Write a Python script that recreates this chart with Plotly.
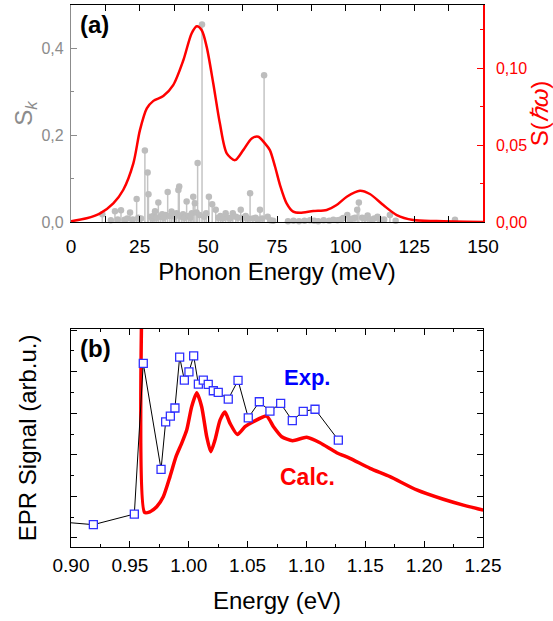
import plotly.graph_objects as go

FONT = "Liberation Sans, Arial, sans-serif"
GRAY = "#8c8c8c"
STEM = "#c4c4c4"
RED = "#ff0000"
BLUE = "#0000ff"

# ---------------- Panel (a) data ----------------
# Partial Huang-Rhys factors S_k (stems) vs phonon energy (meV)
sk_energy = [11.4, 14.5, 16.0, 17.0, 18.2, 19.5, 20.5, 21.5, 22.5, 23.9, 24.5, 25.5, 26.9, 27.9, 28.2,
             29.0, 29.6, 30.2, 30.6, 31.2, 31.8, 32.5, 33.2, 33.8, 34.4, 35.2, 36.0, 36.6, 37.2, 37.8,
             38.4, 39.1, 39.4, 40.2, 40.8, 41.4, 42.1, 42.8, 43.4, 44.0, 44.5, 45.1, 45.7, 46.1, 46.8,
             47.7, 48.5, 49.2, 50.2, 51.4, 52.7, 53.6, 54.4, 55.2, 56.3, 57.2, 58.0, 58.9, 60.0, 60.8,
             61.8, 62.8, 63.6, 64.4, 65.2, 66.2, 67.2, 68.0, 68.8, 69.6, 70.3, 71.6, 72.6, 73.6,
             79.0, 81.0, 83.0, 85.0, 87.0, 88.5, 90.0, 92.0, 94.0, 95.5, 97.0, 98.2, 99.1, 100.6, 101.6,
             102.6, 103.4, 104.2, 104.8, 106.0, 107.0, 108.0, 109.2, 110.4, 111.6, 112.8, 114.0, 116.1,
             118.2, 139.8]
sk_value = [0.018, 0.004, 0.025, 0.006, 0.027, 0.005, 0.008, 0.022, 0.006, 0.053, 0.010, 0.008, 0.165, 0.114, 0.064,
            0.012, 0.008, 0.015, 0.025, 0.010, 0.045, 0.012, 0.018, 0.010, 0.016, 0.069, 0.014, 0.024, 0.018, 0.012,
            0.020, 0.074, 0.082, 0.012, 0.018, 0.010, 0.047, 0.014, 0.010, 0.020, 0.058, 0.043, 0.022, 0.136, 0.016,
            0.455, 0.012, 0.020, 0.058, 0.041, 0.028, 0.010, 0.014, 0.008, 0.020, 0.010, 0.008, 0.020, 0.012, 0.010,
            0.028, 0.010, 0.014, 0.008, 0.066, 0.008, 0.010, 0.006, 0.028, 0.008, 0.338, 0.012, 0.004, 0.003,
            0.002, 0.003, 0.002, 0.003, 0.004, 0.003, 0.002, 0.004, 0.003, 0.005, 0.004, 0.006, 0.009, 0.016, 0.006,
            0.008, 0.010, 0.028, 0.045, 0.010, 0.008, 0.015, 0.006, 0.008, 0.012, 0.005, 0.006, 0.016,
            0.003, 0.005]

# Spectral function S(hbar omega) (red curve, right axis)
s_energy = [0.0, 5.7, 10.6, 15.4, 19.0, 22.7, 25.1, 27.6, 30.0, 33.6, 37.2, 40.9, 43.9, 45.8, 47.6,
            49.4, 51.8, 54.2, 56.7, 59.7, 62.7, 65.8, 68.2, 70.6, 72.4, 74.3, 76.1, 78.5, 80.9, 83.4,
            88.2, 93.1, 96.7, 100.4, 105.2, 108.8, 113.7, 118.6, 124.6, 133.1, 150.0]
s_value = [0.0005, 0.0024, 0.0056, 0.0121, 0.0208, 0.0381, 0.0597, 0.0738, 0.0787, 0.0818, 0.0889, 0.1051, 0.1225, 0.1272, 0.1246,
           0.1138, 0.0900, 0.0641, 0.0446, 0.0402, 0.0467, 0.0543, 0.0554, 0.0511, 0.0467, 0.0359, 0.0240, 0.0121, 0.0067, 0.0060,
           0.0071, 0.0078, 0.0110, 0.0164, 0.0203, 0.0182, 0.0110, 0.0045, 0.0013, 0.0006, 0.0]

a_xticks = [0, 25, 50, 75, 100, 125, 150]
a_yticks = [0.0, 0.2, 0.4]
a_ytext = ["0,0", "0,2", "0,4"]
a_y2ticks = [0.0, 0.05, 0.10]
a_y2text = ["0,00", "0,05", "0,10"]

# ---------------- Panel (b) data ----------------
exp_energy = [0.885, 0.919, 0.9538, 0.9614, 0.9765, 0.9804, 0.9844, 0.9883, 0.9923, 0.9963, 1.0002, 1.0042,
              1.0082, 1.0124, 1.0166, 1.0209, 1.0251, 1.0336, 1.0419, 1.0506, 1.0600, 1.0690, 1.0781,
              1.0880, 1.0973, 1.1073, 1.1271]
exp_signal = [1.22, 1.06, 1.57, 8.82, 3.72, 6.00, 6.28, 6.67, 9.12, 8.01, 8.41, 9.18,
              7.82, 8.01, 7.81, 7.50, 7.42, 7.10, 8.00, 6.20, 6.97, 6.52, 6.89,
              6.06, 6.51, 6.61, 5.13]

calc_energy = [0.9602, 0.9625, 0.9670, 0.9728, 0.9784, 0.9841, 0.9892, 0.9940, 0.9983, 1.0025, 1.0068,
               1.0110, 1.0153, 1.0187, 1.0223, 1.0266, 1.0308, 1.0351, 1.0413, 1.0478, 1.0549, 1.0662,
               1.0720, 1.0790, 1.0883, 1.1002, 1.1115, 1.1257, 1.1370, 1.1540, 1.1710, 1.1937, 1.2163,
               1.2333, 1.2502]
calc_signal = [12.0, 1.65, 1.68, 1.92, 2.40, 3.37, 4.33, 4.97, 5.61, 6.73, 7.40,
               6.73, 5.29, 4.57, 5.13, 6.09, 6.48, 5.93, 5.40, 5.77, 6.01, 6.28,
               5.77, 5.29, 5.10, 5.26, 5.00, 4.52, 4.25, 3.77, 3.37, 2.73, 2.28,
               2.00, 1.76]

b_xticks = [0.90, 0.95, 1.00, 1.05, 1.10, 1.15, 1.20, 1.25]

# ---------------- Figure ----------------
W, H = 553, 621
def px(x):
    return x / W
def py(y):
    return 1 - y / H

fig = go.Figure()

# stems as error bars from the marker down to zero
fig.add_trace(go.Scatter(
    x=sk_energy, y=sk_value, mode="markers", xaxis="x", yaxis="y",
    marker=dict(color="#bdbdbd", size=6.5, line=dict(width=0)),
    error_y=dict(type="data", symmetric=False, array=[0] * len(sk_value), arrayminus=sk_value,
                 color=STEM, thickness=1.5, width=0),
    cliponaxis=False, showlegend=False))

fig.add_trace(go.Scatter(
    x=s_energy, y=s_value, mode="lines", xaxis="x", yaxis="y2",
    line=dict(color=RED, width=2.5, shape="spline", smoothing=0.8), showlegend=False))

fig.add_trace(go.Scatter(
    x=calc_energy, y=calc_signal, mode="lines", xaxis="x2", yaxis="y3",
    line=dict(color=RED, width=3.5, shape="spline", smoothing=0.6), showlegend=False))

fig.add_trace(go.Scatter(
    x=exp_energy, y=exp_signal, mode="lines+markers", xaxis="x2", yaxis="y3",
    line=dict(color="black", width=1),
    marker=dict(symbol="square", size=8, color="white", line=dict(color="#3030ff", width=1.3)),
    showlegend=False))

dom_x = [px(71), px(483)]
dom_a = [py(222), py(5)]
dom_b = [py(546.7), py(329)]

tickfont_x = dict(family=FONT, size=19, color="black")
titlefont = dict(family=FONT, size=24, color="black")

fig.update_layout(
    width=W, height=H,
    margin=dict(l=0, r=0, t=0, b=0),
    paper_bgcolor="white", plot_bgcolor="white",
    font=dict(family=FONT),
    xaxis=dict(domain=dom_x, anchor="y", range=[0, 150], automargin=False,
               tickmode="array", tickvals=a_xticks,
               ticks="inside", ticklen=6, tickcolor="black", tickwidth=1,
               minor=dict(dtick=12.5, tick0=0, ticks="inside", ticklen=3, tickcolor="black"),
               showline=True, linecolor="black", linewidth=1.2, mirror="allticks",
               showgrid=False, zeroline=False, tickfont=tickfont_x, ticklabelstandoff=7,
               title=dict(text="Phonon Energy (meV)", font=titlefont, standoff=7)),
    yaxis=dict(domain=dom_a, anchor="x", range=[0, 0.5], automargin=False,
               tickmode="array", tickvals=a_yticks, ticktext=a_ytext,
               ticks="inside", ticklen=6, tickcolor=GRAY, tickwidth=1,
               minor=dict(tickmode="array", tickvals=[0.1, 0.3], ticks="inside", ticklen=3, tickcolor=GRAY),
               showline=True, linecolor=GRAY, linewidth=1.2,
               showgrid=False, zeroline=False,
               tickfont=dict(family=FONT, size=16, color=GRAY), ticklabelstandoff=3,
               title=dict(text="S<sub><i>k</i></sub>", font=dict(family=FONT, size=24, color=GRAY), standoff=2)),
    yaxis2=dict(domain=dom_a, anchor="x", overlaying="y", side="right", range=[0, 0.141], automargin=False,
                tickmode="array", tickvals=a_y2ticks, ticktext=a_y2text,
                ticks="inside", ticklen=6, tickcolor=RED, tickwidth=1,
                minor=dict(tickmode="array", tickvals=[0.025, 0.075, 0.125], ticks="inside", ticklen=3, tickcolor=RED),
                showline=True, linecolor=RED, linewidth=1.5,
                showgrid=False, zeroline=False,
                tickfont=dict(family=FONT, size=16, color=RED), ticklabelstandoff=8,
                title=dict(text="S(<i>ℏω</i>)", font=dict(family=FONT, size=24, color=RED), standoff=6)),
    xaxis2=dict(domain=dom_x, anchor="y3", range=[0.90, 1.25], automargin=False,
                tickmode="array", tickvals=b_xticks, tickformat=".2f",
                ticks="inside", ticklen=6, tickcolor="black", tickwidth=1,
                minor=dict(dtick=0.025, tick0=0.9, ticks="inside", ticklen=3, tickcolor="black"),
                showline=True, linecolor="black", linewidth=1.2, mirror="allticks",
                showgrid=False, zeroline=False, tickfont=tickfont_x, ticklabelstandoff=1,
                title=dict(text="Energy (eV)", font=titlefont, standoff=17)),
    yaxis3=dict(domain=dom_b, anchor="x2", range=[0, 10.47], automargin=False,
                tickmode="linear", tick0=0.42, dtick=2, showticklabels=False,
                ticks="inside", ticklen=6, tickcolor="black", tickwidth=1,
                minor=dict(tick0=0.42, dtick=1, ticks="inside", ticklen=3, tickcolor="black"),
                showline=True, linecolor="black", linewidth=1.2, mirror="allticks",
                showgrid=False, zeroline=False,
                title=dict(text="EPR Signal (arb.u.)", font=titlefont, standoff=26)),
    annotations=[
        dict(text="<b>(a)</b>", x=px(78), y=py(25), xref="paper", yref="paper",
             xanchor="left", yanchor="middle", showarrow=False,
             font=dict(family=FONT, size=24, color="black")),
        dict(text="<b>(b)</b>", x=px(78), y=py(348), xref="paper", yref="paper",
             xanchor="left", yanchor="middle", showarrow=False,
             font=dict(family=FONT, size=24, color="black")),
        dict(text="<b>Exp.</b>", x=1.1009, y=8.16, xref="x2", yref="y3",
             xanchor="center", yanchor="middle", showarrow=False,
             font=dict(family=FONT, size=22, color=BLUE)),
        dict(text="<b>Calc.</b>", x=1.1005, y=3.37, xref="x2", yref="y3",
             xanchor="center", yanchor="middle", showarrow=False,
             font=dict(family=FONT, size=23, color=RED)),
    ],
)

fig.write_html("out.html", config={"displayModeBar": False},
               post_script="document.body.style.margin='0px';")
